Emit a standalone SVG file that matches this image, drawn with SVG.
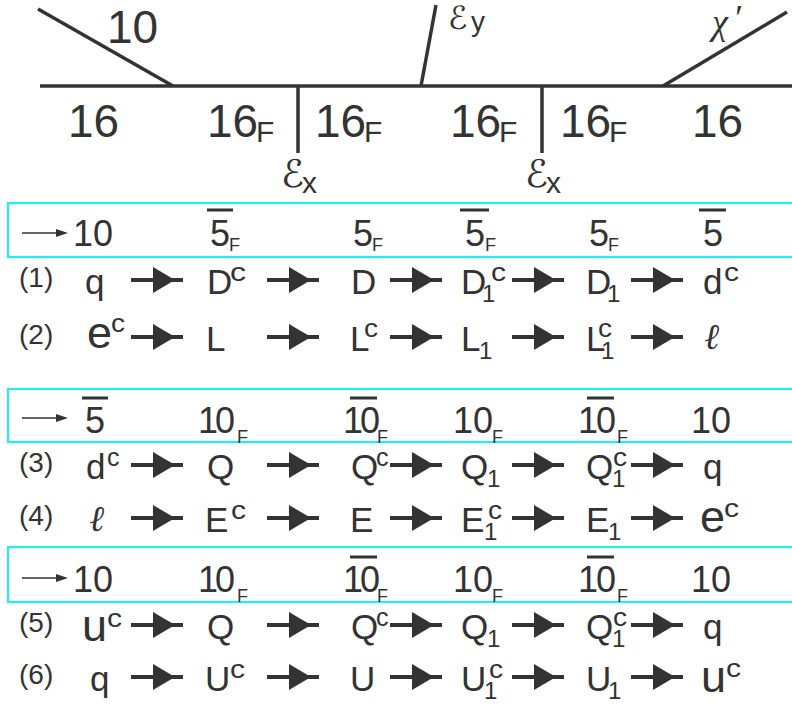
<svg xmlns="http://www.w3.org/2000/svg" xmlns:xlink="http://www.w3.org/1999/xlink" width="792" height="705" viewBox="0 0 792 705">
<style>
.t{font-family:"Liberation Sans",Arial,sans-serif;fill:#333}
.big{font-size:46px}
.hd{font-size:36px}
.sf{font-size:18px}
.tf{font-size:30px}
.m{font-size:35px}
.lb{font-size:28px}
.sup{font-size:25px}
.sub{font-size:24px}
.be{font-size:45px}
.scr{font-family:"DejaVu Sans","Liberation Serif",serif;fill:#333}
.ell{font-family:"Liberation Serif","DejaVu Serif",serif;font-style:italic;font-size:36px;fill:#333}
.ln{stroke:#333;stroke-width:3.5;fill:none;stroke-linecap:butt}
.bar{stroke:#333;stroke-width:3}
.box{fill:none;stroke:#22eef2;stroke-width:2.2}
</style>
<defs>
<g id="arr"><line x1="0" y1="0" x2="52" y2="0" stroke="#333" stroke-width="4"/><path d="M22,-13 L44,0 L22,13 Z" fill="#333"/></g>
<g id="harr"><line x1="0" y1="0" x2="40" y2="0" stroke="#333" stroke-width="1.3"/><path d="M34,-4 L46,0 L34,4 Z" fill="#333"/></g>
</defs>

<g id="top-diagram">
<line class="ln" x1="40" y1="86" x2="792" y2="86"/>
<line class="ln" x1="38" y1="9" x2="173" y2="86"/>
<line class="ln" x1="421" y1="86" x2="436" y2="5"/>
<line class="ln" x1="663" y1="86" x2="787" y2="12"/>
<line class="ln" x1="298" y1="86" x2="298" y2="153"/>
<line class="ln" x1="542" y1="86" x2="542" y2="153"/>
<text class="t big" x="107" y="43">10</text>
<text class="t big" x="68" y="137">16</text>
<text class="t big" x="207" y="137">16</text><text class="t tf" x="256" y="142">F</text>
<text class="t big" x="315" y="137">16</text><text class="t tf" x="364" y="142">F</text>
<text class="t big" x="450" y="137">16</text><text class="t tf" x="499" y="142">F</text>
<text class="t big" x="560" y="137">16</text><text class="t tf" x="609" y="142">F</text>
<text class="t big" x="692" y="137">16</text>
<text class="scr" x="281" y="187" font-size="38">ℰ</text><text class="t" x="302" y="193" font-size="30">x</text>
<text class="scr" x="525" y="187" font-size="38">ℰ</text><text class="t" x="546" y="193" font-size="30">x</text>
<text class="scr" x="448" y="29" font-size="32">ℰ</text><text class="t" x="471" y="31" font-size="28">y</text>
<text class="ell" x="712" y="34" font-size="34">χ</text><text class="ell" x="733" y="30" font-size="28">′</text>
</g>

<g id="box1">
<rect class="box" x="8" y="203" width="800" height="54"/>
<use xlink:href="#harr" x="22" y="233"/>
<text class="t hd" x="73" y="246">10</text>
<line class="bar" x1="207" y1="210" x2="233" y2="210"/><text class="t hd" x="210" y="246">5</text><text class="t sf" x="229" y="251">F</text>
<text class="t hd" x="353" y="246">5</text><text class="t sf" x="372" y="251">F</text>
<line class="bar" x1="460" y1="210" x2="489" y2="210"/><text class="t hd" x="465" y="246">5</text><text class="t sf" x="485" y="251">F</text>
<text class="t hd" x="589" y="246">5</text><text class="t sf" x="608" y="251">F</text>
<line class="bar" x1="699" y1="210" x2="726" y2="210"/><text class="t hd" x="703" y="246">5</text>
</g>

<g id="row1">
<text class="t lb" x="19" y="287">(1)</text>
<text class="t m" x="85" y="294">q</text>
<text class="t m" x="207" y="294">D</text><text class="t sup" x="230" y="281" textLength="16" lengthAdjust="spacingAndGlyphs">c</text>
<text class="t m" x="351" y="294">D</text>
<text class="t m" x="461" y="294">D</text><text class="t sub" x="482" y="302">1</text><text class="t sup" x="491" y="281" textLength="15" lengthAdjust="spacingAndGlyphs">c</text>
<text class="t m" x="586" y="294">D</text><text class="t sub" x="607" y="302">1</text>
<text class="t m" x="703" y="294">d</text><text class="t sup" x="724" y="281" textLength="15" lengthAdjust="spacingAndGlyphs">c</text>
</g>

<g id="row2">
<text class="t lb" x="19" y="344">(2)</text>
<text class="t be" x="87" y="348">e</text><text class="t sup" x="111" y="332" textLength="14" lengthAdjust="spacingAndGlyphs">c</text>
<text class="t m" x="206" y="351">L</text>
<text class="t m" x="350" y="351">L</text><text class="t sup" x="364" y="337" textLength="14" lengthAdjust="spacingAndGlyphs">c</text>
<text class="t m" x="461" y="351">L</text><text class="t sub" x="479" y="359">1</text>
<text class="t m" x="586" y="351">L</text><text class="t sub" x="601" y="359">1</text><text class="t sup" x="598" y="337" textLength="14" lengthAdjust="spacingAndGlyphs">c</text>
<text class="ell" x="704" y="349">ℓ</text>
</g>

<g id="box2">
<rect class="box" x="8" y="389" width="800" height="53"/>
<use xlink:href="#harr" x="22" y="418"/>
<line class="bar" x1="82" y1="398" x2="108" y2="398"/><text class="t hd" x="85" y="433">5</text>
<text class="t hd" x="198" y="433" letter-spacing="-3">10</text><text class="t sf" x="237" y="443">F</text>
<line class="bar" x1="350" y1="398" x2="377" y2="398"/><text class="t hd" x="343" y="433" letter-spacing="-3">10</text><text class="t sf" x="377" y="443">F</text>
<text class="t hd" x="453" y="433">10</text><text class="t sf" x="492" y="443">F</text>
<line class="bar" x1="587" y1="398" x2="614" y2="398"/><text class="t hd" x="578" y="433" letter-spacing="-2">10</text><text class="t sf" x="617" y="443">F</text>
<text class="t hd" x="691" y="433">10</text>
</g>

<g id="row3">
<text class="t lb" x="19" y="472">(3)</text>
<text class="t m" x="86" y="479">d</text><text class="t sup" x="107" y="466">c</text>
<text class="t m" x="207" y="479">Q</text>
<text class="t m" x="351" y="479">Q</text><text class="t sup" x="376" y="466">c</text>
<text class="t m" x="461" y="479">Q</text><text class="t sub" x="487" y="487">1</text>
<text class="t m" x="586" y="479">Q</text><text class="t sub" x="612" y="487">1</text><text class="t sup" x="613" y="466" textLength="14" lengthAdjust="spacingAndGlyphs">c</text>
<text class="t m" x="703" y="479">q</text>
</g>

<g id="row4">
<text class="t lb" x="19" y="525">(4)</text>
<text class="ell" x="89" y="531">ℓ</text>
<text class="t m" x="205" y="532">E</text><text class="t sup" x="231" y="519" textLength="15" lengthAdjust="spacingAndGlyphs">c</text>
<text class="t m" x="350" y="532">E</text>
<text class="t m" x="461" y="532">E</text><text class="t sub" x="484" y="540">1</text><text class="t sup" x="488" y="519" textLength="14" lengthAdjust="spacingAndGlyphs">c</text>
<text class="t m" x="586" y="532">E</text><text class="t sub" x="608" y="540">1</text>
<text class="t be" x="700" y="532">e</text><text class="t sup" x="724" y="517" textLength="15" lengthAdjust="spacingAndGlyphs">c</text>
</g>

<g id="box3">
<rect class="box" x="8" y="547" width="800" height="55"/>
<use xlink:href="#harr" x="22" y="578"/>
<text class="t hd" x="73" y="592">10</text>
<text class="t hd" x="198" y="592" letter-spacing="-3">10</text><text class="t sf" x="237" y="602">F</text>
<line class="bar" x1="350" y1="557" x2="377" y2="557"/><text class="t hd" x="343" y="592" letter-spacing="-3">10</text><text class="t sf" x="377" y="602">F</text>
<text class="t hd" x="453" y="592">10</text><text class="t sf" x="492" y="602">F</text>
<line class="bar" x1="587" y1="557" x2="614" y2="557"/><text class="t hd" x="578" y="592" letter-spacing="-2">10</text><text class="t sf" x="617" y="602">F</text>
<text class="t hd" x="691" y="592">10</text>
</g>

<g id="row5">
<text class="t lb" x="19" y="632">(5)</text>
<text class="t be" x="82" y="641">u</text><text class="t sup" x="107" y="627" textLength="15" lengthAdjust="spacingAndGlyphs">c</text>
<text class="t m" x="207" y="639">Q</text>
<text class="t m" x="351" y="639">Q</text><text class="t sup" x="376" y="626">c</text>
<text class="t m" x="461" y="639">Q</text><text class="t sub" x="487" y="647">1</text>
<text class="t m" x="586" y="639">Q</text><text class="t sub" x="612" y="647">1</text><text class="t sup" x="613" y="626" textLength="14" lengthAdjust="spacingAndGlyphs">c</text>
<text class="t m" x="703" y="639">q</text>
</g>

<g id="row6">
<text class="t lb" x="19" y="684">(6)</text>
<text class="t m" x="90" y="691">q</text>
<text class="t m" x="205" y="691">U</text><text class="t sup" x="230" y="678" textLength="15" lengthAdjust="spacingAndGlyphs">c</text>
<text class="t m" x="350" y="691">U</text>
<text class="t m" x="461" y="691">U</text><text class="t sub" x="484" y="699">1</text><text class="t sup" x="489" y="678" textLength="14" lengthAdjust="spacingAndGlyphs">c</text>
<text class="t m" x="586" y="691">U</text><text class="t sub" x="608" y="699">1</text>
<text class="t be" x="701" y="692">u</text><text class="t sup" x="726" y="677" textLength="15" lengthAdjust="spacingAndGlyphs">c</text>
</g>

<g id="connectors">
<use xlink:href="#arr" x="131" y="280"/><use xlink:href="#arr" x="267" y="280"/><use xlink:href="#arr" x="390" y="280"/><use xlink:href="#arr" x="512" y="280"/><use xlink:href="#arr" x="631" y="280"/>
<use xlink:href="#arr" x="131" y="337"/><use xlink:href="#arr" x="267" y="337"/><use xlink:href="#arr" x="390" y="337"/><use xlink:href="#arr" x="512" y="337"/><use xlink:href="#arr" x="631" y="337"/>
<use xlink:href="#arr" x="131" y="465"/><use xlink:href="#arr" x="267" y="465"/><use xlink:href="#arr" x="390" y="465"/><use xlink:href="#arr" x="512" y="465"/><use xlink:href="#arr" x="631" y="465"/>
<use xlink:href="#arr" x="131" y="518"/><use xlink:href="#arr" x="267" y="518"/><use xlink:href="#arr" x="390" y="518"/><use xlink:href="#arr" x="512" y="518"/><use xlink:href="#arr" x="631" y="518"/>
<use xlink:href="#arr" x="131" y="625"/><use xlink:href="#arr" x="267" y="625"/><use xlink:href="#arr" x="390" y="625"/><use xlink:href="#arr" x="512" y="625"/><use xlink:href="#arr" x="631" y="625"/>
<use xlink:href="#arr" x="131" y="677"/><use xlink:href="#arr" x="267" y="677"/><use xlink:href="#arr" x="390" y="677"/><use xlink:href="#arr" x="512" y="677"/><use xlink:href="#arr" x="631" y="677"/>
</g>
</svg>
